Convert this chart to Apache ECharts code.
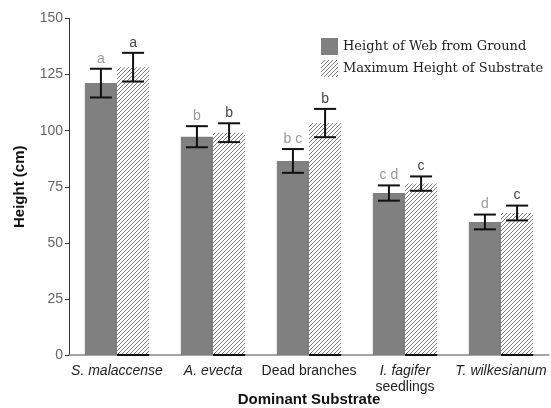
<!DOCTYPE html>
<html><head><meta charset="utf-8">
<script src="https://cdn.jsdelivr.net/npm/echarts@6/dist/echarts.min.js"></script>
<style>html,body{margin:0;padding:0;background:#fff}#c{width:551px;height:408px}</style>
</head><body><div id="c"></div>
<script>
const categories = ['S. malaccense', 'A. evecta', 'Dead branches', 'I. fagifer\nseedlings', 'T. wilkesianum'];
const webHeight = [121.2, 97.3, 86.5, 72.2, 59.3];
const webErr = [6.4, 4.7, 5.3, 3.4, 3.3];
const substrateHeight = [128.3, 99.1, 103.4, 76.4, 63.3];
const substrateErr = [6.4, 4.2, 6.3, 3.2, 3.3];
const webLetters = ['a', 'b', 'b c', 'c d', 'd'];
const substrateLetters = ['a', 'b', 'b', 'c', 'c'];
const yTicks = [0, 25, 50, 75, 100, 125, 150];

// hatch pattern
const pc = document.createElement('canvas');
pc.width = 4; pc.height = 4;
const g = pc.getContext('2d');
g.fillStyle = '#fff'; g.fillRect(0, 0, 4, 4);
g.strokeStyle = '#6e6e6e'; g.lineWidth = 0.9;
g.beginPath();
g.moveTo(-1, 5); g.lineTo(5, -1);
g.moveTo(-1, 1); g.lineTo(1, -1);
g.moveTo(3, 5); g.lineTo(5, 3);
g.stroke();
const hatch = { image: pc, repeat: 'repeat' };

const GAP = 0.33;
function errRender(seriesIdx) {
  return function (params, api) {
    const i = api.value(0);
    const v = api.value(1), e = api.value(2);
    const band = api.size([1, 0])[0];
    const bw = band * (1 - GAP) / 2;
    const c = api.coord([i, v]);
    const cx = c[0] + (seriesIdx === 0 ? -bw / 2 : bw / 2);
    const top = api.coord([i, v + e])[1];
    const bot = api.coord([i, v - e])[1];
    const base = api.coord([i, 0])[1];
    const cap = 11;
    const st = { stroke: '#111', lineWidth: 2 };
    const children = [
      { type: 'line', shape: { x1: cx, y1: top, x2: cx, y2: bot }, style: st },
      { type: 'line', shape: { x1: cx - cap, y1: top, x2: cx + cap, y2: top }, style: st },
      { type: 'line', shape: { x1: cx - cap, y1: bot, x2: cx + cap, y2: bot }, style: st },
      { type: 'text', x: cx, y: top - 3, style: {
          text: seriesIdx === 0 ? webLetters[i] : substrateLetters[i],
          fill: seriesIdx === 0 ? '#9a9a9a' : '#444',
          font: '14px "Liberation Sans", Arial, sans-serif',
          textAlign: 'center', textVerticalAlign: 'bottom' } }
    ];
    if (seriesIdx === 1) {
      children.push({ type: 'line', shape: { x1: cx - bw / 2, y1: base, x2: cx + bw / 2, y2: base }, style: { stroke: '#111', lineWidth: 2 } });
    }
    return { type: 'group', children };
  };
}

const chart = echarts.init(document.getElementById('c'));
chart.setOption({
  animation: false,
  backgroundColor: '#fff',
  grid: { left: 69, right: 2, top: 18.5, bottom: 53, containLabel: false, outerBoundsMode: 'none' },
  legend: {
    orient: 'vertical', left: 316, top: 33, itemWidth: 17, itemHeight: 17, itemGap: 5, icon: 'rect',
    textStyle: { fontFamily: '"DejaVu Serif", serif', fontSize: 13, color: '#222' },
    data: ['Height of Web from Ground', 'Maximum Height of Substrate']
  },
  xAxis: {
    type: 'category', data: categories,
    name: 'Dominant Substrate', nameLocation: 'middle', nameGap: 37, nameMoveOverlap: false,
    nameTextStyle: { fontFamily: '"Liberation Sans", Arial, sans-serif', fontWeight: 'bold', fontSize: 15, color: '#111' },
    axisLine: { lineStyle: { color: '#888', width: 1.5 } },
    axisTick: { show: false },
    axisLabel: {
      interval: 0, margin: 8, color: '#222', fontSize: 14, fontFamily: '"Liberation Sans", Arial, sans-serif',
      formatter: function (v) {
        if (v === 'Dead branches') return '{n|Dead branches}';
        if (v.indexOf('\n') >= 0) { const p = v.split('\n'); return '{i|' + p[0] + '}\n{n|' + p[1] + '}'; }
        return '{i|' + v + '}';
      },
      rich: {
        i: { fontStyle: 'italic', fontSize: 14, color: '#222', fontFamily: '"Liberation Sans", Arial, sans-serif', lineHeight: 16 },
        n: { fontSize: 14, color: '#222', fontFamily: '"Liberation Sans", Arial, sans-serif', lineHeight: 16 }
      }
    }
  },
  yAxis: {
    type: 'value', min: 0, max: 150, interval: 25,
    name: 'Height (cm)', nameLocation: 'middle', nameGap: 42, nameMoveOverlap: false,
    nameTextStyle: { fontFamily: '"Liberation Sans", Arial, sans-serif', fontWeight: 'bold', fontSize: 15, color: '#111' },
    axisLine: { show: true, lineStyle: { color: '#333', width: 1 } },
    axisTick: { show: true, length: 4, lineStyle: { color: '#333' } },
    splitLine: { show: false },
    axisLabel: { color: '#666', fontSize: 14, margin: 6, fontFamily: '"Liberation Sans", Arial, sans-serif',
      formatter: function (v) { return yTicks.indexOf(v) >= 0 ? String(v) : ''; } }
  },
  series: [
    { name: 'Height of Web from Ground', type: 'bar', data: webHeight, barGap: 0, barCategoryGap: (GAP * 100) + '%',
      itemStyle: { color: '#808080' } },
    { name: 'Maximum Height of Substrate', type: 'bar', data: substrateHeight, barGap: 0, barCategoryGap: (GAP * 100) + '%',
      itemStyle: { color: hatch } },
    { type: 'custom', renderItem: errRender(0), data: webHeight.map((v, i) => [i, v, webErr[i]]), z: 10 },
    { type: 'custom', renderItem: errRender(1), data: substrateHeight.map((v, i) => [i, v, substrateErr[i]]), z: 10 }
  ]
});
</script></body></html>
